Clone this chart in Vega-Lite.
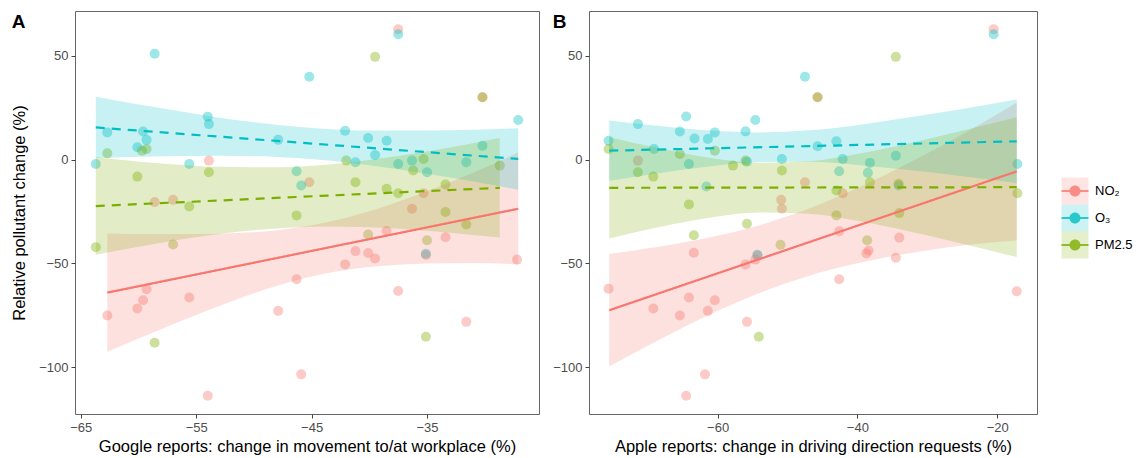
{
  "$schema": "https://vega.github.io/schema/vega-lite/v6.json",
  "background": "white",
  "padding": {"left": 11, "top": 10, "right": 5, "bottom": 5},
  "datasets": {
    "ptsA": [
      {"pollutant": "NO₂", "x": -53.9, "y": -0.5}, {"pollutant": "NO₂", "x": -58.6, "y": -20.5}, {"pollutant": "NO₂", "x": -57.0, "y": -19.4},
      {"pollutant": "NO₂", "x": -37.5, "y": 62.8}, {"pollutant": "NO₂", "x": -30.2, "y": 30.0}, {"pollutant": "NO₂", "x": -45.2, "y": -10.9},
      {"pollutant": "NO₂", "x": -35.3, "y": -16.2}, {"pollutant": "NO₂", "x": -36.3, "y": -23.7}, {"pollutant": "NO₂", "x": -62.7, "y": -75.1},
      {"pollutant": "NO₂", "x": -60.1, "y": -71.8}, {"pollutant": "NO₂", "x": -59.6, "y": -67.8}, {"pollutant": "NO₂", "x": -59.3, "y": -62.5},
      {"pollutant": "NO₂", "x": -55.6, "y": -66.5}, {"pollutant": "NO₂", "x": -54.0, "y": -113.8}, {"pollutant": "NO₂", "x": -47.9, "y": -72.9},
      {"pollutant": "NO₂", "x": -38.5, "y": -34.4}, {"pollutant": "NO₂", "x": -35.1, "y": -46.0}, {"pollutant": "NO₂", "x": -33.4, "y": -37.4},
      {"pollutant": "NO₂", "x": -41.2, "y": -44.1}, {"pollutant": "NO₂", "x": -40.1, "y": -45.0}, {"pollutant": "NO₂", "x": -39.5, "y": -47.7},
      {"pollutant": "NO₂", "x": -42.1, "y": -50.5}, {"pollutant": "NO₂", "x": -27.2, "y": -48.2}, {"pollutant": "NO₂", "x": -46.3, "y": -57.7},
      {"pollutant": "NO₂", "x": -37.5, "y": -63.3}, {"pollutant": "NO₂", "x": -31.6, "y": -78.2}, {"pollutant": "NO₂", "x": -45.9, "y": -103.5},
      {"pollutant": "O₃", "x": -58.6, "y": 51.0}, {"pollutant": "O₃", "x": -63.7, "y": -2.1}, {"pollutant": "O₃", "x": -62.7, "y": 13.1},
      {"pollutant": "O₃", "x": -59.6, "y": 13.5}, {"pollutant": "O₃", "x": -59.3, "y": 9.5}, {"pollutant": "O₃", "x": -60.1, "y": 5.9},
      {"pollutant": "O₃", "x": -54.0, "y": 20.7}, {"pollutant": "O₃", "x": -53.9, "y": 17.1}, {"pollutant": "O₃", "x": -55.6, "y": -2.1},
      {"pollutant": "O₃", "x": -47.9, "y": 9.5}, {"pollutant": "O₃", "x": -37.5, "y": 60.4}, {"pollutant": "O₃", "x": -45.2, "y": 39.9},
      {"pollutant": "O₃", "x": -27.1, "y": 19.1}, {"pollutant": "O₃", "x": -42.1, "y": 13.9}, {"pollutant": "O₃", "x": -40.1, "y": 10.4},
      {"pollutant": "O₃", "x": -38.5, "y": 9.1}, {"pollutant": "O₃", "x": -39.5, "y": 2.2}, {"pollutant": "O₃", "x": -41.2, "y": -1.3},
      {"pollutant": "O₃", "x": -37.5, "y": -2.1}, {"pollutant": "O₃", "x": -36.3, "y": -0.5}, {"pollutant": "O₃", "x": -35.0, "y": -6.1},
      {"pollutant": "O₃", "x": -30.2, "y": 6.7}, {"pollutant": "O₃", "x": -31.6, "y": -1.3}, {"pollutant": "O₃", "x": -46.3, "y": -5.6},
      {"pollutant": "O₃", "x": -45.9, "y": -12.5}, {"pollutant": "O₃", "x": -35.1, "y": -45.4},
      {"pollutant": "PM2.5", "x": -62.7, "y": 3.0}, {"pollutant": "PM2.5", "x": -59.7, "y": 4.3}, {"pollutant": "PM2.5", "x": -59.3, "y": 5.1},
      {"pollutant": "PM2.5", "x": -60.1, "y": -8.2}, {"pollutant": "PM2.5", "x": -53.9, "y": -6.1}, {"pollutant": "PM2.5", "x": -55.6, "y": -22.6},
      {"pollutant": "PM2.5", "x": -39.5, "y": 49.5}, {"pollutant": "PM2.5", "x": -30.2, "y": 30.0}, {"pollutant": "PM2.5", "x": -42.0, "y": -0.5},
      {"pollutant": "PM2.5", "x": -35.3, "y": 0.3}, {"pollutant": "PM2.5", "x": -36.2, "y": -5.3}, {"pollutant": "PM2.5", "x": -28.7, "y": -2.9},
      {"pollutant": "PM2.5", "x": -41.2, "y": -10.9}, {"pollutant": "PM2.5", "x": -38.5, "y": -14.1}, {"pollutant": "PM2.5", "x": -37.5, "y": -16.2},
      {"pollutant": "PM2.5", "x": -33.4, "y": -12.0}, {"pollutant": "PM2.5", "x": -46.3, "y": -26.9}, {"pollutant": "PM2.5", "x": -33.4, "y": -25.3},
      {"pollutant": "PM2.5", "x": -31.6, "y": -31.3}, {"pollutant": "PM2.5", "x": -63.7, "y": -42.2}, {"pollutant": "PM2.5", "x": -57.0, "y": -40.9},
      {"pollutant": "PM2.5", "x": -58.6, "y": -88.3}, {"pollutant": "PM2.5", "x": -40.1, "y": -36.1}, {"pollutant": "PM2.5", "x": -35.0, "y": -38.9},
      {"pollutant": "PM2.5", "x": -35.1, "y": -85.4}
    ],
    "ptsB": [
      {"pollutant": "NO₂", "x": -71.4, "y": -0.5}, {"pollutant": "NO₂", "x": -45.7, "y": 30.0}, {"pollutant": "NO₂", "x": -47.5, "y": -10.9},
      {"pollutant": "NO₂", "x": -50.9, "y": -19.4}, {"pollutant": "NO₂", "x": -50.8, "y": -23.7}, {"pollutant": "NO₂", "x": -20.5, "y": 62.8},
      {"pollutant": "NO₂", "x": -42.1, "y": -16.2}, {"pollutant": "NO₂", "x": -75.6, "y": -62.2}, {"pollutant": "NO₂", "x": -69.2, "y": -71.8},
      {"pollutant": "NO₂", "x": -65.4, "y": -75.1}, {"pollutant": "NO₂", "x": -64.1, "y": -66.5}, {"pollutant": "NO₂", "x": -63.4, "y": -44.9},
      {"pollutant": "NO₂", "x": -61.4, "y": -72.9}, {"pollutant": "NO₂", "x": -60.4, "y": -67.8}, {"pollutant": "NO₂", "x": -55.8, "y": -78.2},
      {"pollutant": "NO₂", "x": -56.0, "y": -50.5}, {"pollutant": "NO₂", "x": -54.6, "y": -48.2}, {"pollutant": "NO₂", "x": -54.3, "y": -46.2},
      {"pollutant": "NO₂", "x": -64.5, "y": -113.8}, {"pollutant": "NO₂", "x": -61.8, "y": -103.5}, {"pollutant": "NO₂", "x": -42.6, "y": -57.7},
      {"pollutant": "NO₂", "x": -42.6, "y": -34.5}, {"pollutant": "NO₂", "x": -34.0, "y": -37.6}, {"pollutant": "NO₂", "x": -38.4, "y": -43.8},
      {"pollutant": "NO₂", "x": -38.7, "y": -45.2}, {"pollutant": "NO₂", "x": -34.5, "y": -47.3}, {"pollutant": "NO₂", "x": -17.2, "y": -63.5},
      {"pollutant": "O₃", "x": -75.6, "y": 9.1}, {"pollutant": "O₃", "x": -71.4, "y": 17.1}, {"pollutant": "O₃", "x": -69.1, "y": 5.1},
      {"pollutant": "O₃", "x": -65.4, "y": 13.5}, {"pollutant": "O₃", "x": -64.5, "y": 20.8}, {"pollutant": "O₃", "x": -63.3, "y": 10.2},
      {"pollutant": "O₃", "x": -64.1, "y": -2.1}, {"pollutant": "O₃", "x": -61.4, "y": 9.9}, {"pollutant": "O₃", "x": -60.4, "y": 13.1},
      {"pollutant": "O₃", "x": -61.6, "y": -13.0}, {"pollutant": "O₃", "x": -56.0, "y": 13.6}, {"pollutant": "O₃", "x": -54.6, "y": 19.1},
      {"pollutant": "O₃", "x": -55.8, "y": -1.0}, {"pollutant": "O₃", "x": -50.8, "y": 0.3}, {"pollutant": "O₃", "x": -47.5, "y": 39.9},
      {"pollutant": "O₃", "x": -45.7, "y": 6.4}, {"pollutant": "O₃", "x": -43.0, "y": 8.8}, {"pollutant": "O₃", "x": -20.5, "y": 60.4},
      {"pollutant": "O₃", "x": -42.1, "y": 0.3}, {"pollutant": "O₃", "x": -42.6, "y": -5.6}, {"pollutant": "O₃", "x": -38.2, "y": -1.6},
      {"pollutant": "O₃", "x": -38.5, "y": -6.4}, {"pollutant": "O₃", "x": -34.5, "y": 1.9}, {"pollutant": "O₃", "x": -34.1, "y": -12.5},
      {"pollutant": "O₃", "x": -17.1, "y": -2.1}, {"pollutant": "O₃", "x": -54.3, "y": -45.8},
      {"pollutant": "PM2.5", "x": -75.6, "y": 5.1}, {"pollutant": "PM2.5", "x": -71.4, "y": -6.1}, {"pollutant": "PM2.5", "x": -69.2, "y": -8.2},
      {"pollutant": "PM2.5", "x": -65.4, "y": 2.7}, {"pollutant": "PM2.5", "x": -64.1, "y": -21.6}, {"pollutant": "PM2.5", "x": -60.4, "y": 4.3},
      {"pollutant": "PM2.5", "x": -57.8, "y": -2.9}, {"pollutant": "PM2.5", "x": -56.0, "y": -0.5}, {"pollutant": "PM2.5", "x": -50.8, "y": -5.3},
      {"pollutant": "PM2.5", "x": -45.7, "y": 30.0}, {"pollutant": "PM2.5", "x": -55.8, "y": -30.9}, {"pollutant": "PM2.5", "x": -43.0, "y": -14.9},
      {"pollutant": "PM2.5", "x": -43.0, "y": -26.9}, {"pollutant": "PM2.5", "x": -34.5, "y": 49.5}, {"pollutant": "PM2.5", "x": -38.2, "y": -10.9},
      {"pollutant": "PM2.5", "x": -34.1, "y": -11.7}, {"pollutant": "PM2.5", "x": -17.1, "y": -16.2}, {"pollutant": "PM2.5", "x": -34.0, "y": -25.8},
      {"pollutant": "PM2.5", "x": -63.4, "y": -36.5}, {"pollutant": "PM2.5", "x": -54.1, "y": -85.4}, {"pollutant": "PM2.5", "x": -51.0, "y": -41.0},
      {"pollutant": "PM2.5", "x": -38.6, "y": -38.9}
    ],
    "lineA": [
      {"pollutant": "NO₂", "x": -62.7, "y": -64.1}, {"pollutant": "NO₂", "x": -27.1, "y": -23.7},
      {"pollutant": "O₃", "x": -63.7, "y": 15.5}, {"pollutant": "O₃", "x": -27.1, "y": 0.3},
      {"pollutant": "PM2.5", "x": -63.7, "y": -22.4}, {"pollutant": "PM2.5", "x": -28.7, "y": -13.6}
    ],
    "lineB": [
      {"pollutant": "NO₂", "x": -75.5, "y": -72.6}, {"pollutant": "NO₂", "x": -17.2, "y": -5.7},
      {"pollutant": "O₃", "x": -75.5, "y": 4.3}, {"pollutant": "O₃", "x": -17.2, "y": 8.8},
      {"pollutant": "PM2.5", "x": -75.5, "y": -13.6}, {"pollutant": "PM2.5", "x": -17.2, "y": -13.3}
    ],
    "bandA": [
      {"pollutant": "NO₂", "x": -62.7, "y": -92.6, "y2": -35.6}, {"pollutant": "NO₂", "x": -58, "y": -81.6, "y2": -35.9},
      {"pollutant": "NO₂", "x": -53, "y": -70.5, "y2": -35.7}, {"pollutant": "NO₂", "x": -48, "y": -60.8, "y2": -34.0},
      {"pollutant": "NO₂", "x": -44, "y": -55.1, "y2": -30.6}, {"pollutant": "NO₂", "x": -40, "y": -51.8, "y2": -24.9},
      {"pollutant": "NO₂", "x": -35, "y": -50.1, "y2": -15.3}, {"pollutant": "NO₂", "x": -31, "y": -49.8, "y2": -6.4},
      {"pollutant": "NO₂", "x": -27.1, "y": -50.5, "y2": 3.5},
      {"pollutant": "O₃", "x": -63.7, "y": 0.7, "y2": 30.3}, {"pollutant": "O₃", "x": -58, "y": 1.6, "y2": 24.7},
      {"pollutant": "O₃", "x": -53, "y": 1.9, "y2": 20.2}, {"pollutant": "O₃", "x": -48, "y": 1.3, "y2": 16.7},
      {"pollutant": "O₃", "x": -44, "y": -0.2, "y2": 14.9}, {"pollutant": "O₃", "x": -40, "y": -2.7, "y2": 14.0},
      {"pollutant": "O₃", "x": -35, "y": -6.8, "y2": 14.0}, {"pollutant": "O₃", "x": -31, "y": -10.6, "y2": 14.4},
      {"pollutant": "O₃", "x": -27.1, "y": -14.5, "y2": 15.1},
      {"pollutant": "PM2.5", "x": -63.7, "y": -45.9, "y2": 1.1}, {"pollutant": "PM2.5", "x": -58, "y": -40.1, "y2": -1.9},
      {"pollutant": "PM2.5", "x": -53, "y": -35.9, "y2": -3.5}, {"pollutant": "PM2.5", "x": -48, "y": -33.2, "y2": -3.7},
      {"pollutant": "PM2.5", "x": -44, "y": -32.3, "y2": -2.6}, {"pollutant": "PM2.5", "x": -40, "y": -32.6, "y2": -0.2},
      {"pollutant": "PM2.5", "x": -35, "y": -34.3, "y2": 3.9}, {"pollutant": "PM2.5", "x": -31, "y": -36.3, "y2": 7.9},
      {"pollutant": "PM2.5", "x": -28.7, "y": -37.6, "y2": 10.4}
    ],
    "bandB": [
      {"pollutant": "NO₂", "x": -75.5, "y": -99.7, "y2": -45.5}, {"pollutant": "NO₂", "x": -68, "y": -86.2, "y2": -41.8},
      {"pollutant": "NO₂", "x": -61, "y": -74.5, "y2": -37.4}, {"pollutant": "NO₂", "x": -54, "y": -64.3, "y2": -31.6},
      {"pollutant": "NO₂", "x": -47, "y": -56.1, "y2": -23.7}, {"pollutant": "NO₂", "x": -40, "y": -50.0, "y2": -13.7},
      {"pollutant": "NO₂", "x": -33, "y": -45.4, "y2": -2.2}, {"pollutant": "NO₂", "x": -25, "y": -41.4, "y2": 12.1},
      {"pollutant": "NO₂", "x": -17.2, "y": -39.0, "y2": 27.5},
      {"pollutant": "O₃", "x": -75.5, "y": -10.2, "y2": 18.8}, {"pollutant": "O₃", "x": -68, "y": -6.3, "y2": 16.1},
      {"pollutant": "O₃", "x": -61, "y": -3.2, "y2": 14.0}, {"pollutant": "O₃", "x": -54, "y": -1.2, "y2": 13.1},
      {"pollutant": "O₃", "x": -47, "y": -1.1, "y2": 14.1}, {"pollutant": "O₃", "x": -40, "y": -2.6, "y2": 16.6},
      {"pollutant": "O₃", "x": -33, "y": -4.9, "y2": 20.1}, {"pollutant": "O₃", "x": -25, "y": -8.0, "y2": 24.4},
      {"pollutant": "O₃", "x": -17.2, "y": -11.3, "y2": 28.9},
      {"pollutant": "PM2.5", "x": -75.5, "y": -38.0, "y2": 10.8}, {"pollutant": "PM2.5", "x": -68, "y": -32.3, "y2": 5.2},
      {"pollutant": "PM2.5", "x": -61, "y": -27.9, "y2": 0.8}, {"pollutant": "PM2.5", "x": -54, "y": -25.5, "y2": -1.5},
      {"pollutant": "PM2.5", "x": -47, "y": -26.1, "y2": -0.8}, {"pollutant": "PM2.5", "x": -40, "y": -29.5, "y2": 2.7},
      {"pollutant": "PM2.5", "x": -33, "y": -34.3, "y2": 7.5}, {"pollutant": "PM2.5", "x": -25, "y": -40.5, "y2": 13.9},
      {"pollutant": "PM2.5", "x": -17.2, "y": -47.0, "y2": 20.4}
    ]
  },
  "hconcat": [
    {
      "title": {"text": "A", "anchor": "start", "frame": "bounds", "fontSize": 19, "fontWeight": "bold", "color": "#000", "offset": -21},
      "width": 464,
      "height": 403,
      "encoding": {
        "x": {"field": "x", "type": "quantitative", "scale": {"domain": [-65.5, -25.3], "nice": false, "zero": false},
              "axis": {"values": [-65, -55, -45, -35], "title": "Google reports: change in movement to/at workplace (%)"}},
        "y": {"field": "y", "type": "quantitative", "scale": {"domain": [-122.6, 71.6], "nice": false, "zero": false},
              "axis": {"values": [-100, -50, 0, 50], "title": "Relative pollutant change (%)"}}
      },
      "layer": [
        {"data": {"name": "ptsA"}, "mark": {"type": "point", "filled": true, "size": 100, "opacity": 0.38, "strokeWidth": 0},
         "encoding": {"color": {"field": "pollutant", "type": "nominal", "scale": {"domain": ["NO₂", "O₃", "PM2.5"], "range": ["#F8766D", "#00BFC4", "#7CAE00"]},
           "legend": {"title": null, "orient": "none", "legendX": 990, "legendY": 170,
             "symbolType": "M-1.35,-0.11H1.35V0.11H-1.35Z M0.55,0A0.55,0.55,0,1,1,-0.55,0A0.55,0.55,0,1,1,0.55,0Z",
             "symbolSize": 400, "symbolOpacity": 0.8, "symbolStrokeWidth": 0, "labelFontSize": 13, "labelColor": "#000",
             "labelFont": "Liberation Sans", "labelOffset": 10, "rowPadding": 10}}}},
        {"data": {"name": "bandA"}, "mark": {"type": "area", "opacity": 0.22, "interpolate": "monotone"},
         "encoding": {"y2": {"field": "y2"}, "fill": {"field": "pollutant", "type": "nominal", "scale": {"range": ["#F8766D", "#00BFC4", "#7CAE00"]},
           "legend": {"title": null, "orient": "none", "legendX": 986.5, "legendY": 166.5, "symbolType": "square", "symbolSize": 729,
             "symbolOpacity": 0.2, "symbolStrokeWidth": 0, "labelExpr": "''", "labelOpacity": 0, "labelFontSize": 13, "labelOffset": 10, "rowPadding": 0}}}},
        {"data": {"name": "lineA"}, "mark": {"type": "line", "strokeWidth": 2.2},
         "encoding": {"stroke": {"field": "pollutant", "type": "nominal", "scale": {"domain": ["NO₂", "O₃", "PM2.5"], "range": ["#F8766D", "#00BFC4", "#7CAE00"]}, "legend": null},
                      "strokeDash": {"field": "pollutant", "type": "nominal", "scale": {"domain": ["NO₂", "O₃", "PM2.5"], "range": [[1, 0], [9, 7], [9, 7]]}, "legend": null}}}
      ]
    },
    {
      "title": {"text": "B", "anchor": "start", "frame": "bounds", "fontSize": 19, "fontWeight": "bold", "color": "#000", "offset": -21},
      "width": 448,
      "height": 403,
      "encoding": {
        "x": {"field": "x", "type": "quantitative", "scale": {"domain": [-78.4, -14.3], "nice": false, "zero": false},
              "axis": {"values": [-60, -40, -20], "title": "Apple reports: change in driving direction requests (%)"}},
        "y": {"field": "y", "type": "quantitative", "scale": {"domain": [-122.6, 71.6], "nice": false, "zero": false},
              "axis": {"values": [-100, -50, 0, 50], "title": null}}
      },
      "layer": [
        {"data": {"name": "ptsB"}, "mark": {"type": "point", "filled": true, "size": 100, "opacity": 0.38, "strokeWidth": 0},
         "encoding": {"color": {"field": "pollutant", "type": "nominal", "scale": {"domain": ["NO₂", "O₃", "PM2.5"], "range": ["#F8766D", "#00BFC4", "#7CAE00"]},
           "legend": {"title": null, "orient": "none", "legendX": 990, "legendY": 170,
             "symbolType": "M-1.35,-0.11H1.35V0.11H-1.35Z M0.55,0A0.55,0.55,0,1,1,-0.55,0A0.55,0.55,0,1,1,0.55,0Z",
             "symbolSize": 400, "symbolOpacity": 0.8, "symbolStrokeWidth": 0, "labelFontSize": 13, "labelColor": "#000",
             "labelFont": "Liberation Sans", "labelOffset": 10, "rowPadding": 10}}}},
        {"data": {"name": "bandB"}, "mark": {"type": "area", "opacity": 0.22, "interpolate": "monotone"},
         "encoding": {"y2": {"field": "y2"}, "fill": {"field": "pollutant", "type": "nominal", "scale": {"range": ["#F8766D", "#00BFC4", "#7CAE00"]},
           "legend": {"title": null, "orient": "none", "legendX": 986.5, "legendY": 166.5, "symbolType": "square", "symbolSize": 729,
             "symbolOpacity": 0.2, "symbolStrokeWidth": 0, "labelExpr": "''", "labelOpacity": 0, "labelFontSize": 13, "labelOffset": 10, "rowPadding": 0}}}},
        {"data": {"name": "lineB"}, "mark": {"type": "line", "strokeWidth": 2.2},
         "encoding": {"stroke": {"field": "pollutant", "type": "nominal", "scale": {"domain": ["NO₂", "O₃", "PM2.5"], "range": ["#F8766D", "#00BFC4", "#7CAE00"]}, "legend": null},
                      "strokeDash": {"field": "pollutant", "type": "nominal", "scale": {"domain": ["NO₂", "O₃", "PM2.5"], "range": [[1, 0], [9, 7], [9, 7]]}, "legend": null}}}
      ]
    }
  ],
  "spacing": 12,
  "resolve": {"scale": {"x": "independent", "y": "independent", "color": "shared", "fill": "shared"}, "legend": {"color": "shared", "fill": "shared"}},
  "config": {
    "font": "Liberation Sans",
    "view": {"stroke": "#666", "strokeWidth": 1},
    "axis": {"grid": false, "domain": false, "tickColor": "#444", "tickSize": 4, "labelFontSize": 13, "labelColor": "#4D4D4D",
             "labelPadding": 3, "titleFontSize": 16.5, "titleFontWeight": "normal", "titleColor": "#000", "titleFont": "Liberation Sans", "labelFont": "Liberation Sans"},
    "axisY": {"titlePadding": 11},
    "axisX": {"titlePadding": 4}
  }
}
